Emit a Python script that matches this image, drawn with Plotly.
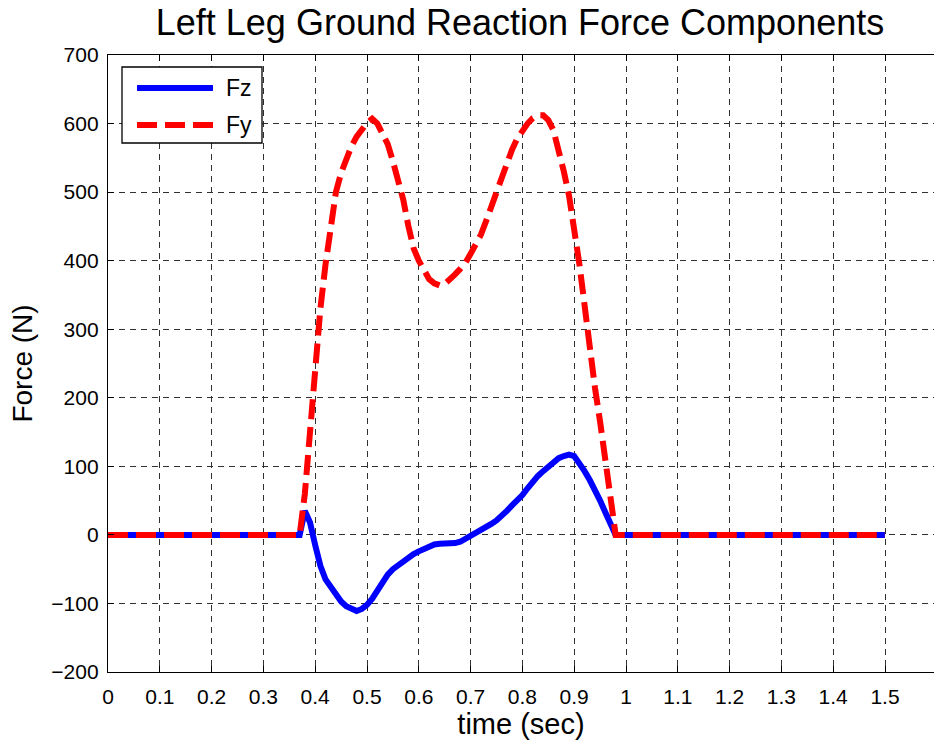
import plotly.graph_objects as go

# ---- data ----
t = [0.0, 0.37, 0.38, 0.39, 0.40, 0.41, 0.42, 0.43, 0.44, 0.45, 0.46, 0.47, 0.48, 0.49,
     0.50, 0.51, 0.52, 0.53, 0.54, 0.55, 0.56, 0.57, 0.58, 0.59, 0.60, 0.61, 0.62, 0.63,
     0.64, 0.65, 0.66, 0.67, 0.68, 0.69, 0.70, 0.71, 0.72, 0.73, 0.74, 0.75, 0.76, 0.77,
     0.78, 0.79, 0.80, 0.81, 0.82, 0.83, 0.84, 0.85, 0.86, 0.87, 0.88, 0.89, 0.90, 0.91,
     0.92, 0.93, 0.94, 0.95, 0.96, 0.97, 0.98, 1.5]

Fz = [0, 0, 35, 18, -15, -45, -65, -77, -88, -97, -104, -107, -111, -108,
      -102, -93, -80, -68, -58, -50, -44, -38, -32, -28, -24, -20, -16, -14,
      -13, -13, -13, -12, -10, -6, -2, 2, 6, 11, 16, 21, 27, 35,
      43, 50, 58, 68, 78, 86, 93, 100, 107, 112, 115, 117, 115, 105,
      93, 80, 66, 50, 33, 16, 0, 0]

Fy = [0, 0, 60, 150, 250, 330, 395, 455, 500, 528, 550, 567, 581, 593,
      601, 607, 600, 585, 570, 545, 515, 489, 450, 418, 400, 385, 373, 367,
      364, 366, 372, 380, 388, 397, 410, 423, 438, 458, 480, 500, 522, 543,
      562, 578, 590, 600, 608, 612, 612, 605, 590, 563, 530, 495, 450, 395,
      335, 270, 215, 165, 110, 55, 0, 0]

series_names = ["Fz", "Fy"]
series_colors = ["#0000FF", "#FF0000"]
x_ticks = [0, 0.1, 0.2, 0.3, 0.4, 0.5, 0.6, 0.7, 0.8, 0.9, 1, 1.1, 1.2, 1.3, 1.4, 1.5]
x_tick_labels = ["0", "0.1", "0.2", "0.3", "0.4", "0.5", "0.6", "0.7", "0.8", "0.9",
                 "1", "1.1", "1.2", "1.3", "1.4", "1.5"]
y_ticks = [-200, -100, 0, 100, 200, 300, 400, 500, 600, 700]

# ---- layout geometry (pixels) ----
W, H = 934, 744
L, R, T, B = 108, 934, 55, 672
FONT = "Liberation Sans, Arial, Helvetica, sans-serif"
dashes = ["solid", "20px,8px"]

def px(xp):
    return (xp - L) / (R - L)

def py(yp):
    return (B - yp) / (B - T)

fig = go.Figure()
for name, vals, col, dsh in zip(series_names, [Fz, Fy], series_colors, dashes):
    fig.add_trace(go.Scatter(x=t, y=vals, mode="lines", name=name,
                             line=dict(color=col, width=6, dash=dsh),
                             showlegend=False))

grid = dict(showgrid=True, gridcolor="#303030", gridwidth=1, griddash="6px,5px",
            zeroline=False, showline=True, linecolor="black", linewidth=1.3,
            ticks="inside", ticklen=6, tickcolor="black",
            tickfont=dict(family=FONT, size=21, color="black"))

fig.update_xaxes(range=[0, 1.5946], tickvals=x_ticks, ticktext=x_tick_labels,
                 mirror="ticks", ticklabelstandoff=6,
                 title=dict(text="time (sec)", font=dict(family=FONT, size=29, color="black"),
                            standoff=6),
                 **grid)
fig.update_yaxes(range=[-200, 700], tickvals=y_ticks, mirror=False,
                 ticklabelstandoff=4,
                 title=dict(text="Force (N)", font=dict(family=FONT, size=28, color="black"),
                            standoff=10),
                 **grid)

# manual MATLAB-like legend
shapes = [dict(type="rect", xref="paper", yref="paper",
               x0=px(122), x1=px(262), y0=py(143), y1=py(67),
               line=dict(color="black", width=1.3), fillcolor="white", layer="above")]
annotations = []
rows = [88, 125]
for name, col, dsh, yr in zip(series_names, series_colors, dashes, rows):
    shapes.append(dict(type="line", xref="paper", yref="paper",
                       x0=px(137), x1=px(213), y0=py(yr), y1=py(yr),
                       line=dict(color=col, width=6, dash=dsh), layer="above"))
    annotations.append(dict(text=name, xref="paper", yref="paper", x=px(224), y=py(yr),
                            xanchor="left", yanchor="middle", showarrow=False,
                            font=dict(family=FONT, size=23, color="black")))

fig.update_layout(
    width=W, height=H,
    margin=dict(l=L, r=W - R, t=T, b=H - B, pad=0),
    paper_bgcolor="white", plot_bgcolor="white",
    title=dict(text="Left Leg Ground Reaction Force Components",
               x=px(520), xanchor="center", xref="paper",
               y=1 - 22 / H, yanchor="middle", yref="container",
               font=dict(family=FONT, size=36, color="black")),
    shapes=shapes, annotations=annotations, showlegend=False,
)

fig.write_html("out.html")
